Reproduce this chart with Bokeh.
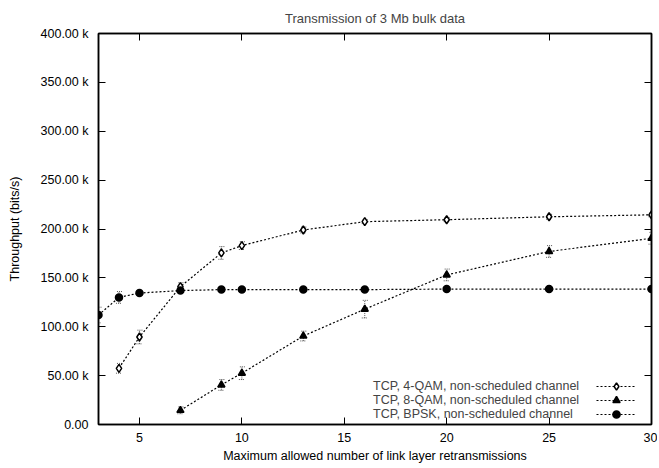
from bokeh.plotting import figure
from bokeh.models import (ColumnDataSource, Whisker, Legend, LegendItem, LinearAxis,
                          CustomJSTickFormatter, FixedTicker, Range1d)
from bokeh.embed import file_html
from bokeh.resources import INLINE

# ---- data (bits/s) ----
x_4qam = [4, 5, 7, 9, 10, 13, 16, 20, 25, 30]
y_4qam = [57500, 89500, 141000, 175500, 183000, 199000, 207500, 209500, 212500, 214500]
e_4qam = [5000, 7000, 4000, 6500, 4000, 3000, 2000, 2000, 2500, 2000]

x_8qam = [7, 9, 10, 13, 16, 20, 25, 30]
y_8qam = [14500, 40500, 52500, 90500, 118000, 153000, 177000, 190500]
e_8qam = [3500, 5500, 6500, 5000, 9000, 6000, 6000, 6000]

x_bpsk = [3, 4, 5, 7, 9, 10, 13, 16, 20, 25, 30]
y_bpsk = [112000, 130000, 134500, 137000, 138000, 138000, 138000, 138000, 138500, 138500, 138500]
e_bpsk = [8000, 6000, 1500, 1500, 1000, 1000, 1000, 1000, 1000, 1000, 1000]

x_ticks = [5, 10, 15, 20, 25, 30]
y_ticks = [0, 50000, 100000, 150000, 200000, 250000, 300000, 350000, 400000]

title = "Transmission of 3 Mb bulk data"
x_label = "Maximum allowed number of link layer retransmissions"
y_label = "Throughput (bits/s)"
labels = ["TCP, 4-QAM, non-scheduled channel",
          "TCP, 8-QAM, non-scheduled channel",
          "TCP, BPSK, non-scheduled channel"]

FONT = "Liberation Sans"
TICK_FS = "12.5px"
LAB_FS = "12.5px"
LEG_FS = "12.5px"

p = figure(width=657, height=466, output_backend="svg", toolbar_location=None,
           x_range=Range1d(3, 30), y_range=Range1d(0, 400000),
           min_border_left=98, min_border_right=6, min_border_top=32, min_border_bottom=42,
           x_axis_label=x_label, y_axis_label=y_label)

p.title.text = title
p.title.align = "center"
p.title.text_font = FONT
p.title.text_font_size = "13px"
p.title.text_font_style = "normal"
p.title.standoff = 16

p.xgrid.visible = False
p.ygrid.visible = False
p.outline_line_color = "black"
p.outline_line_width = 1.5
p.background_fill_color = "white"
p.border_fill_color = "white"

fmt = CustomJSTickFormatter(code="return tick == 0 ? '0.00' : (tick/1000).toFixed(2) + ' k';")
blank = CustomJSTickFormatter(code="return '';")

for ax in p.xaxis:
    ax.ticker = FixedTicker(ticks=x_ticks)
    ax.major_label_standoff = 8
    ax.axis_label_standoff = 4
for ax in p.yaxis:
    ax.ticker = FixedTicker(ticks=y_ticks)
    ax.formatter = fmt
    ax.major_label_standoff = 10
    ax.axis_label_standoff = 16

for ax in list(p.xaxis) + list(p.yaxis):
    ax.major_tick_in = 7
    ax.major_tick_out = 0
    ax.minor_tick_in = 0
    ax.minor_tick_out = 0
    ax.axis_line_color = "black"
    ax.axis_line_width = 1.5
    ax.major_tick_line_color = "black"
    ax.major_label_text_font = FONT
    ax.major_label_text_font_size = TICK_FS
    ax.major_label_text_color = "black"
    ax.axis_label_text_font = FONT
    ax.axis_label_text_font_size = LAB_FS
    ax.axis_label_text_font_style = "normal"
    ax.axis_label_text_color = "black"

# mirror axes (ticks only)
top = LinearAxis(ticker=FixedTicker(ticks=x_ticks), formatter=blank,
                 major_tick_in=7, major_tick_out=0, minor_tick_in=0, minor_tick_out=0,
                 axis_line_color="black", axis_line_width=1.5, major_label_standoff=7)
right = LinearAxis(ticker=FixedTicker(ticks=y_ticks), formatter=blank,
                   major_tick_in=7, major_tick_out=0, minor_tick_in=0, minor_tick_out=0,
                   axis_line_color="black", axis_line_width=1.5, major_label_standoff=0)
p.add_layout(top, "above")
p.add_layout(right, "right")

def series(xs, ys, es, marker, size, fill):
    src = ColumnDataSource(dict(x=xs, y=ys,
                                lo=[a - b for a, b in zip(ys, es)],
                                hi=[a + b for a, b in zip(ys, es)]))
    w = Whisker(source=src, base="x", lower="lo", upper="hi",
                line_color="#555555", line_width=1, line_dash="1 1")
    for h in (w.upper_head, w.lower_head):
        h.size = 6
        h.line_color = "#555555"
        h.line_dash = "1 1"
    p.add_layout(w)
    ln = p.line("x", "y", source=src, line_color="black", line_width=1.2, line_dash="2 2")
    sc = p.scatter("x", "y", source=src, marker=marker, size=size,
                   fill_color=fill, line_color="black", line_width=1.5)
    return ln, sc

r1 = series(x_4qam, y_4qam, e_4qam, "diamond", 8, "white")
r2 = series(x_8qam, y_8qam, e_8qam, "triangle", 7, "black")
r3 = series(x_bpsk, y_bpsk, e_bpsk, "circle", 7, "black")

common = dict(border_line_alpha=0, background_fill_alpha=0,
              label_text_font=FONT, label_text_font_size=LEG_FS,
              glyph_height=18, label_height=18, padding=0, margin=0, label_standoff=0)

# one legend per row: glyph on the right, label text to its left
row_y = [29, 15, 1]
for lab, rr, yy in zip(labels, (r1, r2, r3), row_y):
    p.add_layout(Legend(items=[LegendItem(label=" ", renderers=list(rr))],
                        location=(498, yy), glyph_width=40, **common))
    p.add_layout(Legend(items=[LegendItem(label=lab, renderers=list(rr))],
                        location=(275, yy), glyph_width=0, **common))

open("out.html", "w").write(file_html(p, INLINE))
